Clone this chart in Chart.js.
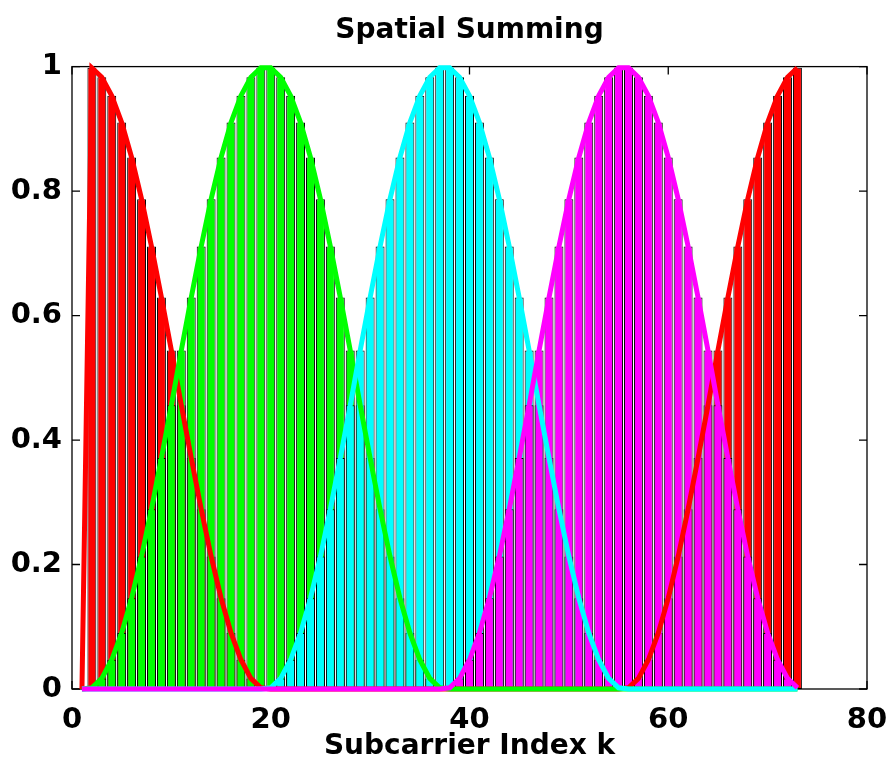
<!DOCTYPE html>
<html>
<head>
<meta charset="utf-8">
<title>Spatial Summing</title>
<script src="https://cdn.jsdelivr.net/npm/chart.js@4.4.1/dist/chart.umd.min.js"></script>
<style>
  html, body { margin: 0; padding: 0; background: #fff; }
  #wrap { width: 892px; height: 769px; }
</style>
</head>
<body>
<div id="wrap"><canvas id="chart"></canvas></div>
<script>
// subcarrier indices 1..73
const subcarriers = [
  1, 2, 3, 4, 5, 6, 7, 8, 9, 10, 11, 12, 13, 14, 15, 16, 17, 18, 19, 20,
  21, 22, 23, 24, 25, 26, 27, 28, 29, 30, 31, 32, 33, 34, 35, 36, 37, 38, 39, 40,
  41, 42, 43, 44, 45, 46, 47, 48, 49, 50, 51, 52, 53, 54, 55, 56, 57, 58, 59, 60,
  61, 62, 63, 64, 65, 66, 67, 68, 69, 70, 71, 72, 73
];

// window weight per antenna, one value per subcarrier
const redWeights = [
  0,
  0.998, 0.983, 0.953, 0.910, 0.854, 0.787, 0.711, 0.629, 0.544,
  0.456, 0.371, 0.289, 0.213, 0.146, 0.090, 0.047, 0.017, 0.002,
  0, 0, 0, 0, 0, 0, 0, 0, 0, 0, 0, 0, 0, 0, 0, 0, 0, 0,
  0, 0, 0, 0, 0, 0, 0, 0, 0, 0, 0, 0, 0, 0, 0, 0, 0, 0,
  0.002, 0.017, 0.047, 0.090, 0.146, 0.213, 0.289, 0.371, 0.456,
  0.544, 0.629, 0.711, 0.787, 0.854, 0.910, 0.953, 0.983, 0.998
];
const greenWeights = [
  0,
  0.002, 0.017, 0.047, 0.090, 0.146, 0.213, 0.289, 0.371, 0.456,
  0.544, 0.629, 0.711, 0.787, 0.854, 0.910, 0.953, 0.983, 0.998,
  0.998, 0.983, 0.953, 0.910, 0.854, 0.787, 0.711, 0.629, 0.544,
  0.456, 0.371, 0.289, 0.213, 0.146, 0.090, 0.047, 0.017, 0.002,
  0, 0, 0, 0, 0, 0, 0, 0, 0, 0, 0, 0, 0, 0, 0, 0, 0, 0,
  0, 0, 0, 0, 0, 0, 0, 0, 0, 0, 0, 0, 0, 0, 0, 0, 0, 0
];
const cyanWeights = [
  0, 0, 0, 0, 0, 0, 0, 0, 0, 0, 0, 0, 0, 0, 0, 0, 0, 0, 0,
  0.002, 0.017, 0.047, 0.090, 0.146, 0.213, 0.289, 0.371, 0.456,
  0.544, 0.629, 0.711, 0.787, 0.854, 0.910, 0.953, 0.983, 0.998,
  0.998, 0.983, 0.953, 0.910, 0.854, 0.787, 0.711, 0.629, 0.544,
  0.456, 0.371, 0.289, 0.213, 0.146, 0.090, 0.047, 0.017, 0.002,
  0, 0, 0, 0, 0, 0, 0, 0, 0, 0, 0, 0, 0, 0, 0, 0, 0, 0
];
const magentaWeights = [
  0, 0, 0, 0, 0, 0, 0, 0, 0, 0, 0, 0, 0, 0, 0, 0, 0, 0, 0,
  0, 0, 0, 0, 0, 0, 0, 0, 0, 0, 0, 0, 0, 0, 0, 0, 0, 0,
  0.002, 0.017, 0.047, 0.090, 0.146, 0.213, 0.289, 0.371, 0.456,
  0.544, 0.629, 0.711, 0.787, 0.854, 0.910, 0.953, 0.983, 0.998,
  0.998, 0.983, 0.953, 0.910, 0.854, 0.787, 0.711, 0.629, 0.544,
  0.456, 0.371, 0.289, 0.213, 0.146, 0.090, 0.047, 0.017, 0.002
];

const xTicks = [0, 20, 40, 60, 80];
const yTicks = [0, 0.2, 0.4, 0.6, 0.8, 1];

const FONT = "'DejaVu Sans', sans-serif";

function points(weights) {
  return subcarriers.map((k, i) => ({ x: k, y: weights[i] }));
}
function barPoints(weights) {
  // empty bars are left out so they don't leave an edge on the axis
  return subcarriers.map((k, i) => ({ x: k, y: weights[i] > 0 ? weights[i] : null }));
}

function curve(label, weights, color, order) {
  return {
    type: "line", label, data: points(weights), order,
    borderColor: color, borderWidth: 5, pointRadius: 0,
    tension: 0, fill: false, clip: 8
  };
}
function bars(label, weights, color, order) {
  return {
    type: "bar", label, data: barPoints(weights), order,
    backgroundColor: color, borderColor: "#000", borderWidth: 1,
    borderSkipped: false, grouped: false,
    barPercentage: 0.9, categoryPercentage: 1
  };
}

// MATLAB-style box with inward ticks on all four sides
const boxAxes = {
  id: "boxAxes",
  beforeDatasetsDraw(chart) {
    const { ctx, chartArea: a, scales: { x, y } } = chart;
    const len = 8;
    ctx.save();
    ctx.strokeStyle = "#000";
    ctx.lineWidth = 1.3;
    ctx.strokeRect(a.left, a.top, a.right - a.left, a.bottom - a.top);
    ctx.beginPath();
    xTicks.forEach(v => {
      const px = x.getPixelForValue(v);
      ctx.moveTo(px, a.bottom); ctx.lineTo(px, a.bottom - len);
      ctx.moveTo(px, a.top); ctx.lineTo(px, a.top + len);
    });
    yTicks.forEach(v => {
      const py = y.getPixelForValue(v);
      ctx.moveTo(a.left, py); ctx.lineTo(a.left + len, py);
      ctx.moveTo(a.right, py); ctx.lineTo(a.right - len, py);
    });
    ctx.stroke();
    ctx.restore();
  }
};

new Chart(document.getElementById("chart"), {
  type: "bar",
  data: {
    datasets: [
      curve("magenta", magentaWeights, "#ff00ff", 1),
      curve("cyan", cyanWeights, "#00ffff", 2),
      curve("green", greenWeights, "#00ff00", 3),
      curve("red", redWeights, "#ff0000", 4),
      bars("magenta bars", magentaWeights, "#ff00ff", 5),
      bars("cyan bars", cyanWeights, "#00ffff", 6),
      bars("green bars", greenWeights, "#00ff00", 7),
      bars("red bars", redWeights, "#ff0000", 8)
    ]
  },
  options: {
    responsive: true,
    maintainAspectRatio: false,
    animation: false,
    layout: { padding: { left: 0, right: 25, top: 0, bottom: 0 } },
    plugins: {
      legend: { display: false },
      tooltip: { enabled: false },
      title: {
        display: true,
        fullSize: false,
        text: "Spatial Summing",
        color: "#000",
        font: { family: FONT, size: 28, weight: "bold" },
        padding: { top: 14, bottom: 19 }
      }
    },
    scales: {
      x: {
        type: "linear",
        min: 0, max: 80,
        offset: false,
        grid: { display: false, drawTicks: false },
        border: { display: false },
        ticks: {
          stepSize: 20, color: "#000", padding: 14, maxRotation: 0,
          font: { family: FONT, size: 29, weight: "bold" }
        },
        title: {
          display: true, text: "Subcarrier Index k", color: "#000",
          font: { family: FONT, size: 28, weight: "bold" },
          padding: { top: 0, bottom: 5 }
        },
        afterFit(scale) {
          scale.height = 80;
          scale.paddingLeft = 0;
          scale.paddingRight = 0;
        }
      },
      y: {
        min: 0, max: 1,
        grid: { display: false, drawTicks: false },
        border: { display: false },
        ticks: {
          stepSize: 0.2, color: "#000", padding: 10,
          font: { family: FONT, size: 29, weight: "bold" },
          callback: v => String(Math.round(v * 10) / 10)
        },
        afterFit(scale) {
          scale.width = 72;
          scale.paddingTop = 0;
          scale.paddingBottom = 0;
        }
      }
    }
  },
  plugins: [boxAxes]
});
</script>
</body>
</html>
